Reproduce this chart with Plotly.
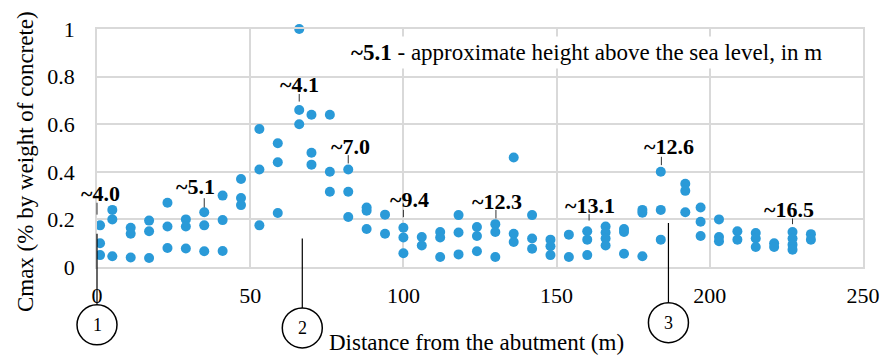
import plotly.graph_objects as go

# Measurements along the structure: distance from the abutment (m) and Cmax
distance = [
    1, 1, 1,
    5, 5, 5,
    11, 11, 11,
    17, 17, 17,
    23, 23, 23,
    29, 29, 29,
    35, 35, 35,
    41, 41, 41,
    47, 47, 47,
    53, 53, 53,
    59, 59, 59,
    66, 66, 66,
    70, 70, 70,
    76, 76, 76,
    82, 82, 82,
    88, 88, 88,
    94, 94,
    100, 100, 100,
    106, 106,
    112, 112, 112,
    118, 118, 118,
    124, 124, 124,
    130, 130, 130,
    136, 136, 136,
    142, 142, 142,
    148, 148, 148,
    154, 154,
    160, 160, 160,
    166, 166, 166, 166,
    172, 172, 172,
    178, 178, 178,
    184, 184, 184,
    192, 192, 192,
    197, 197, 197,
    203, 203, 203,
    209, 209,
    215, 215, 215,
    221, 221,
    227, 227, 227, 227,
    233, 233,
]
cmax = [
    0.175, 0.10, 0.05,
    0.24, 0.20, 0.045,
    0.165, 0.14, 0.04,
    0.195, 0.15, 0.038,
    0.27, 0.17, 0.08,
    0.20, 0.17, 0.078,
    0.23, 0.175, 0.066,
    0.30, 0.197, 0.067,
    0.37, 0.29, 0.26,
    0.58, 0.41, 0.175,
    0.52, 0.44, 0.227,
    1.0, 0.66, 0.60,
    0.64, 0.48, 0.43,
    0.64, 0.40, 0.316,
    0.41, 0.316, 0.21,
    0.25, 0.236, 0.16,
    0.22, 0.14,
    0.165, 0.124, 0.058,
    0.126, 0.09,
    0.147, 0.124, 0.042,
    0.218, 0.145, 0.053,
    0.168, 0.13, 0.066,
    0.18, 0.147, 0.042,
    0.46, 0.14, 0.105,
    0.218, 0.12, 0.077,
    0.115, 0.087, 0.05,
    0.136, 0.042,
    0.15, 0.115, 0.05,
    0.17, 0.145, 0.12, 0.09,
    0.16, 0.147, 0.056,
    0.24, 0.228, 0.045,
    0.40, 0.24, 0.115,
    0.35, 0.32, 0.23,
    0.25, 0.19, 0.13,
    0.20, 0.126, 0.108,
    0.15, 0.115,
    0.143, 0.12, 0.084,
    0.10, 0.084,
    0.147, 0.12, 0.094, 0.073,
    0.138, 0.115,
]

# Approximate heights above sea level, with the position of each label
height_text = ["~4.0", "~5.1", "~4.1", "~7.0", "~9.4", "~12.3", "~13.1", "~12.6", "~16.5"]
height_text_x = [1, 32.3, 66, 82.8, 102, 130.7, 160.8, 186.6, 226]
height_text_y = [0.31, 0.34, 0.765, 0.505, 0.284, 0.274, 0.26, 0.505, 0.242]
height_tick_x = [0, 35, 66, 82, 100, 130.2, 160.6, 184.2, 227]
height_tick_y0 = [0.22, 0.25, 0.695, 0.435, 0.21, 0.204, 0.195, 0.428, 0.18]
height_tick_y1 = [0.27, 0.289, 0.727, 0.47, 0.24, 0.24, 0.222, 0.463, 0.204]

# Numbered reference sections below the axis
section_labels = ["1", "2", "3"]
section_x = [0, 67, 186.5]
section_line_top = [0.14, 0.12, 0.185]

x_ticks = [0, 50, 100, 150, 200, 250]
X_RANGE = [0, 250]
Y_RANGE = [0, 1]

W, H = 883, 358
M_L, M_R, M_T, M_B = 97, 20, 29, 91
plot_h = H - M_T - M_B

SERIF = "Liberation Serif"
GRID = "#d9d9d9"
DOT = "#2a9ad8"
FS = 22        # tick labels and height labels
FS_TITLE = 23  # axis titles and the note


def to_paper_x(v):
    return (v - X_RANGE[0]) / (X_RANGE[1] - X_RANGE[0])


fig = go.Figure()
fig.add_trace(go.Scatter(
    x=distance, y=cmax, mode="markers",
    marker=dict(size=10, color=DOT, line=dict(width=0)),
    showlegend=False, cliponaxis=False,
))

shapes = []
annotations = []

# Height labels with their short leader ticks
for t, tx, ty, kx, k0, k1 in zip(height_text, height_text_x, height_text_y,
                                  height_tick_x, height_tick_y0, height_tick_y1):
    annotations.append(dict(
        x=tx, y=ty, xref="x", yref="y", text="<b>%s</b>" % t, showarrow=False,
        font=dict(family=SERIF, size=FS, color="black"),
        xanchor="center", yanchor="middle",
    ))
    shapes.append(dict(type="line", xref="paper", yref="paper",
                       x0=to_paper_x(kx), x1=to_paper_x(kx), y0=k0, y1=k1,
                       line=dict(color="#333333", width=1)))

# Circled section markers with their vertical leaders
circle_r = 20  # px
circle_cy = [-0.243, -0.256, -0.234]  # paper units below the axis
for lab, sx, top, cy in zip(section_labels, section_x, section_line_top, circle_cy):
    px = to_paper_x(sx)
    circle_top = cy + circle_r / plot_h
    shapes.append(dict(type="line", xref="paper", yref="paper", x0=px, x1=px,
                       y0=top, y1=circle_top, line=dict(color="black", width=1.2)))
    shapes.append(dict(type="circle", xref="paper", yref="paper",
                       xsizemode="pixel", ysizemode="pixel",
                       xanchor=px, yanchor=cy,
                       x0=-circle_r, x1=circle_r, y0=-circle_r, y1=circle_r,
                       line=dict(color="black", width=1.5), fillcolor="white"))
    annotations.append(dict(x=px, y=cy, xref="paper", yref="paper", text=lab,
                            showarrow=False, font=dict(family=SERIF, size=18, color="black"),
                            xanchor="center", yanchor="middle"))

# Legend note for the height labels
annotations.append(dict(
    x=0.639, y=0.903, xref="paper", yref="paper",
    text="<b>~5.1</b> - approximate height above the sea level, in m",
    showarrow=False, font=dict(family=SERIF, size=FS_TITLE, color="black"),
    bgcolor="white", borderpad=3, xanchor="center", yanchor="middle",
))

# Axis titles
annotations.append(dict(
    x=0.495, y=-0.319, xref="paper", yref="paper",
    text="Distance from the abutment (m)", showarrow=False,
    font=dict(family=SERIF, size=FS_TITLE, color="black"),
    xanchor="center", yanchor="middle",
))
annotations.append(dict(
    x=-0.094, y=0.445, xref="paper", yref="paper",
    text="Cmax (% by weight of concrete)", showarrow=False, textangle=-90,
    font=dict(family=SERIF, size=FS_TITLE, color="black"),
    xanchor="center", yanchor="middle",
))

fig.update_layout(
    width=W, height=H,
    margin=dict(l=M_L, r=M_R, t=M_T, b=M_B, pad=0),
    paper_bgcolor="white", plot_bgcolor="white",
    shapes=shapes, annotations=annotations,
    font=dict(family=SERIF, size=FS, color="black"),
    xaxis=dict(
        range=X_RANGE, tickvals=x_ticks, showgrid=True, gridcolor=GRID, gridwidth=1.5,
        zeroline=False, showline=True, linecolor=GRID, linewidth=1.5, mirror=True,
        ticks="outside", ticklen=8, tickcolor="rgba(0,0,0,0)", automargin=False,
        tickfont=dict(family=SERIF, size=FS, color="black"),
    ),
    yaxis=dict(
        range=Y_RANGE, dtick=0.2, showgrid=True, gridcolor=GRID, gridwidth=1.5,
        zeroline=False, showline=True, linecolor=GRID, linewidth=1.5, mirror=True,
        ticks="outside", ticklen=16, tickcolor="rgba(0,0,0,0)", automargin=False,
        tickfont=dict(family=SERIF, size=FS, color="black"),
    ),
)

fig.write_html("out.html")
